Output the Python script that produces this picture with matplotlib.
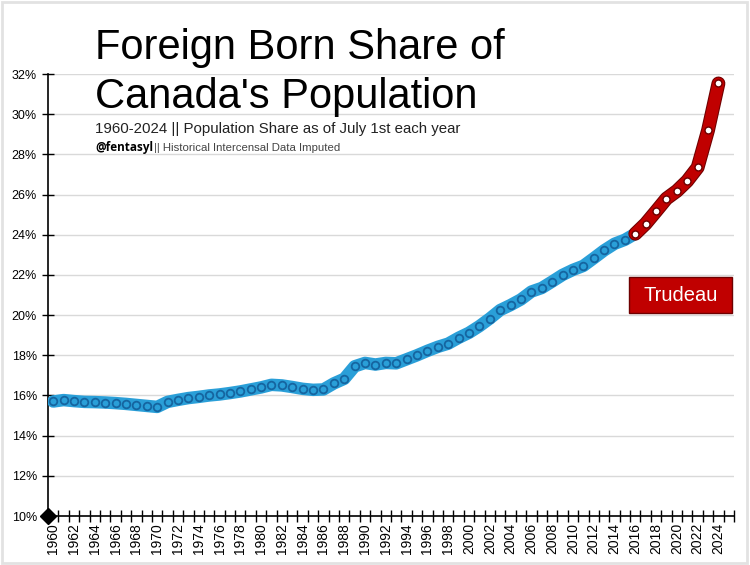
import matplotlib
matplotlib.use("Agg")
import matplotlib.pyplot as plt
import matplotlib.patheffects as pe
from matplotlib.patches import Rectangle
from matplotlib.ticker import FixedLocator, FuncFormatter

plt.rcParams['font.family'] = ['Liberation Sans', 'DejaVu Sans']

# Datos: porcentaje de nacidos en el extranjero (1 de julio de cada año)
years = list(range(1960, 2025))
share = [15.70, 15.77, 15.72, 15.68, 15.67, 15.65, 15.62, 15.58, 15.53, 15.48,
         15.43, 15.68, 15.78, 15.87, 15.93, 16.00, 16.05, 16.12, 16.20, 16.30,
         16.40, 16.53, 16.50, 16.42, 16.33, 16.28, 16.30, 16.60, 16.83, 17.45,
         17.62, 17.54, 17.62, 17.60, 17.80, 18.00, 18.22, 18.42, 18.58, 18.87,
         19.12, 19.45, 19.83, 20.25, 20.50, 20.78, 21.17, 21.35, 21.67, 22.00,
         22.25, 22.45, 22.83, 23.22, 23.55, 23.75, 24.05, 24.55, 25.17, 25.80,
         26.18, 26.68, 27.35, 29.20, 31.53]
trudeau_start = 2016

yticks = list(range(10, 33, 2))
xlabels = list(range(1960, 2025, 2))

blue = "#2a9fd8"
blue_dark = "#1565a0"
red = "#c00000"
red_dark = "#6e0000"

fig = plt.figure(figsize=(7.5, 5.65), dpi=100)
ax = fig.add_axes([0.064, 0.0867, 0.9147, 0.7823])

i0 = years.index(trudeau_start)

# tramo azul
ax.plot(years[:i0 + 1], share[:i0 + 1], color=blue, lw=9, solid_capstyle="round",
        solid_joinstyle="round", zorder=3)
ax.plot(years[:i0], share[:i0], ls="none", marker="o", ms=5.5,
        mfc=blue, mec=blue_dark, mew=1.3, zorder=4)

# tramo rojo (Trudeau)
ax.plot(years[i0:], share[i0:], color=red, lw=8.5, solid_capstyle="round",
        solid_joinstyle="round", zorder=5,
        path_effects=[pe.Stroke(linewidth=10, foreground=red_dark), pe.Normal()])
ax.plot(years[i0:], share[i0:], ls="none", marker="o", ms=5,
        mfc="white", mec=red_dark, mew=1.0, zorder=6)

ax.set_xlim(1959.5, 2025.5)
ax.set_ylim(10, 32)

ax.yaxis.set_major_locator(FixedLocator(yticks))
ax.yaxis.set_major_formatter(FuncFormatter(lambda v, p: f"{int(v)}%"))
ax.tick_params(axis="y", direction="inout", length=8, width=1, labelsize=9, pad=4)

ax.xaxis.set_major_locator(FixedLocator(xlabels))
ax.set_xticklabels([str(y) for y in xlabels], rotation=90)
ax.tick_params(axis="x", which="major", length=0, labelsize=10, pad=5)
ax.xaxis.set_minor_locator(FixedLocator([y + 0.5 for y in range(1959, 2026)]))
ax.tick_params(axis="x", which="minor", direction="inout", length=8, width=1)

ax.grid(axis="y", color="#d9d9d9", lw=1)
ax.set_axisbelow(True)
for s in ["top", "right"]:
    ax.spines[s].set_visible(False)
ax.spines["left"].set_linewidth(1.2)
ax.spines["bottom"].set_linewidth(1.2)

ax.plot([1959.5], [10], marker="D", color="black", ms=8, clip_on=False, zorder=10)

# cuadro Trudeau
ax.add_patch(Rectangle((2015.4, 20.1), 9.9, 1.8, fc=red, ec=red_dark, lw=1,
                       zorder=7, clip_on=False))
ax.text(2020.35, 21.0, "Trudeau", color="white", fontsize=14.5, ha="center",
        va="center", zorder=8)

# títulos
fig.text(0.127, 0.895, "Foreign Born Share of", fontsize=30, va="baseline")
fig.text(0.127, 0.808, "Canada's Population", fontsize=30, va="baseline")
fig.text(0.127, 0.765, "1960-2024 || Population Share as of July 1st each year",
         fontsize=10.8, color="#222222", va="baseline")
fig.text(0.127, 0.733, "@fentasyl", fontsize=8.5, weight="bold", family="Open Sans",
         va="baseline")
fig.text(0.206, 0.733, "|| Historical Intercensal Data Imputed", fontsize=8.2,
         color="#444444", va="baseline")

fig.patches.append(Rectangle((0.002, 0.003), 0.994, 0.993, transform=fig.transFigure,
                             fill=False, ec="#e2e2e2", lw=2))

fig.savefig("out.png", dpi=100)
